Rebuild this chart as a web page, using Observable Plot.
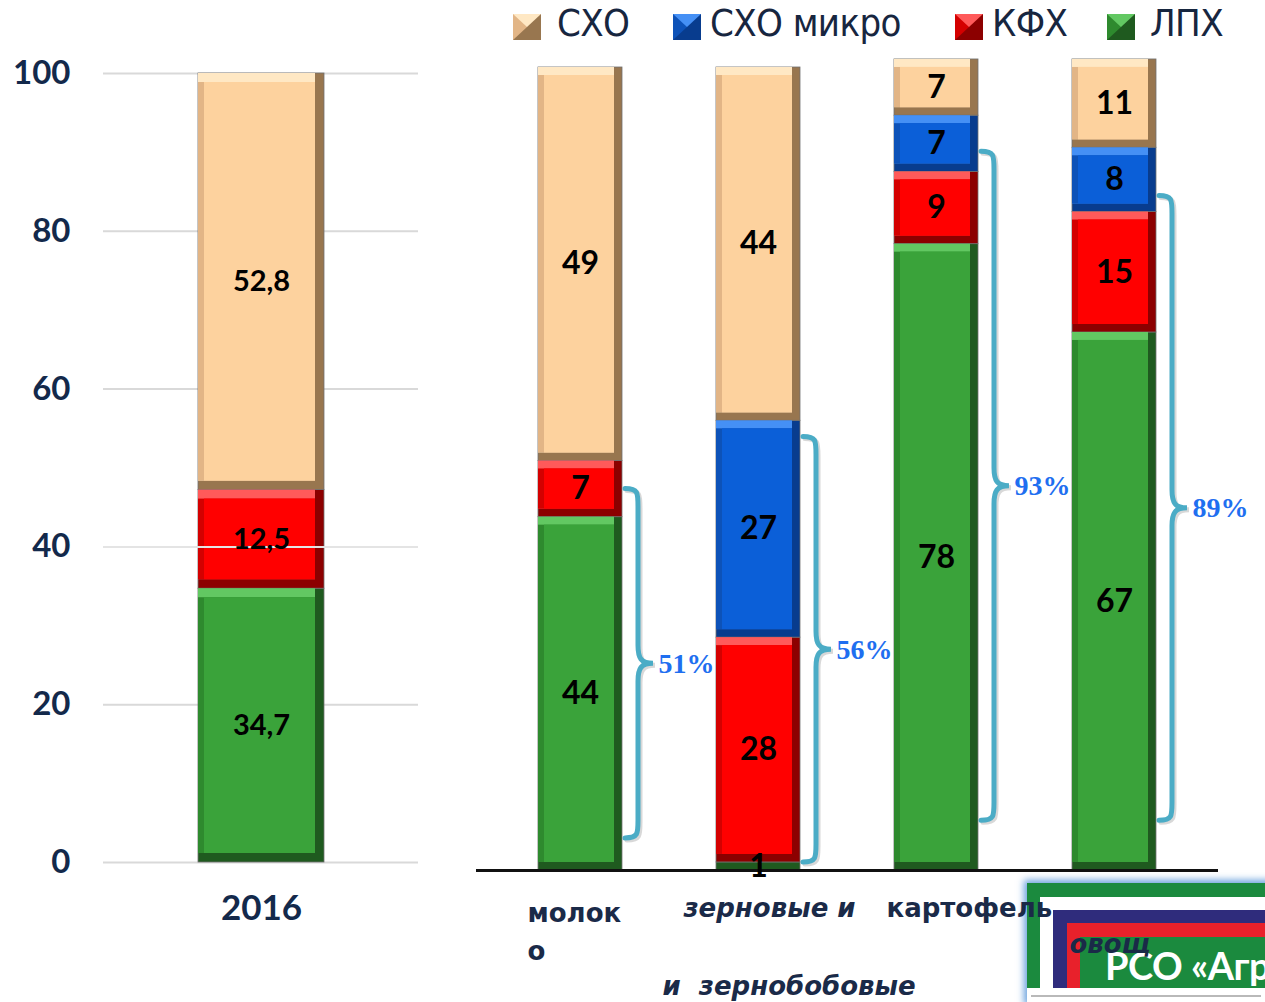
<!DOCTYPE html>
<html>
<head>
<meta charset="utf-8">
<script src="https://cdn.jsdelivr.net/npm/d3@7"></script>
<script src="https://cdn.jsdelivr.net/npm/@observablehq/plot@0.6"></script>
<style>
  html, body { margin: 0; padding: 0; background: #fff; }
  body { width: 1265px; height: 1002px; position: relative; overflow: hidden; }
  .layer { position: absolute; left: 0; top: 0; }
  .layer svg { max-width: none !important; }
  #left g[aria-label="y-axis tick label"] text,
  #left g[aria-label="x-axis tick label"] text { font-weight: 700; fill: #13294b; }
  .lg-text { position: absolute; top: 3px; font: 38px "Liberation Sans Narrow", "Arial Narrow", "DejaVu Sans Condensed", sans-serif; letter-spacing: -0.6px; color: #17263f; line-height: 40px; white-space: nowrap; }
  .lg-sw { position: absolute; top: 14px; width: 0; height: 0; border-style: solid; border-width: 13px 14px; }
  #logo { position: absolute; left: 1027px; top: 883px; width: 250px; height: 119px; background: #fff; box-shadow: 0 0 7px 3px rgba(80,145,215,0.85); overflow: hidden; }
  #logo div { position: absolute; }
</style>
</head>
<body>
<div id="logo">
  <div style="left:0;top:0;right:0;height:105px;background:#1b8a3e"></div>
  <div style="left:13px;top:14px;right:0;height:91px;background:#ffffff"></div>
  <div style="left:26px;top:27px;right:0;height:78px;background:#2f2c7c"></div>
  <div style="left:40px;top:40px;right:0;height:65px;background:#e8212b"></div>
  <div style="left:53px;top:54px;right:0;height:51px;background:#1b8a3e"></div>
  <div style="left:78px;top:60px;font:700 38px Lato, 'Open Sans', sans-serif;letter-spacing:-0.5px;color:#fff;white-space:nowrap;line-height:44px">РСО «Агр</div>
  <div style="left:4px;top:112px;width:230px;height:2px;background:#b9b9b9"></div>
</div>
<div id="left" class="layer"></div>
<div id="right" class="layer"></div>
<div id="legend" class="layer"></div>
<script>
// ---------- data ----------
const years = ["2016"];
const yTicks = [0, 20, 40, 60, 80, 100];
const series = ["ЛПХ", "КФХ", "СХО микро", "СХО"];          // stacking order, bottom → top
const legendOrder = ["СХО", "СХО микро", "КФХ", "ЛПХ"];
const values2016 = [34.7, 12.5, 0, 52.8];

const cats = ["молоко", "зерновые и зернобобовые", "картофель", "овощи"];
const lph   = [44, 1, 78, 67];
const kfh   = [7, 28, 9, 15];
const mikro = [0, 27, 7, 8];
const sho   = [49, 44, 7, 11];
const pctLabels   = ["51%", "56%", "93%", "89%"];
const braceTop    = [47.5, 54, 89.5, 84];
const braceBottom = [4, 1, 6.2, 6.2];

// ---------- styles ----------
const palette = {
  "СХО":       {base: "#fdd29e", light: "#ffe8c4", dark: "#98764f", lb: "#e2b586"},
  "СХО микро": {base: "#0b5fd8", light: "#4590f5", dark: "#083c8e", lb: "#0d52b8"},
  "КФХ":       {base: "#ff0000", light: "#ff5a5a", dark: "#8c0000", lb: "#d40000"},
  "ЛПХ":       {base: "#3aa33a", light: "#62c862", dark: "#1f5a1f", lb: "#2e8a2e"}
};
const navy = "#13294b";
const labelFont = "Lato, 'Open Sans', sans-serif";

// ---------- tables ----------
const rows2016 = series.map((s, j) => ({x: years[0], series: s, value: values2016[j]})).filter(d => d.value > 0);
const seriesVals = [lph, kfh, mikro, sho];
const rowsRight = [];
cats.forEach((c, i) => series.forEach((s, j) => {
  const v = seriesVals[j][i];
  if (v > 0) rowsRight.push({x: c, series: s, value: v});
}));

function bevel(data, inset) {
  return [
    Plot.barY(data, Plot.stackY({x: "x", y: "value", fill: d => palette[d.series].dark, stroke: "#707070", strokeWidth: 0.8})),
    Plot.barY(data, Plot.stackY({x: "x", y: "value", fill: d => palette[d.series].light, insetRight: inset, insetBottom: inset})),
    Plot.barY(data, Plot.stackY({x: "x", y: "value", fill: d => palette[d.series].lb, insetTop: inset, insetRight: inset, insetBottom: inset})),
    Plot.barY(data, Plot.stackY({x: "x", y: "value", fill: d => palette[d.series].base, insetTop: inset, insetRight: inset, insetBottom: inset, insetLeft: Math.round(inset * 0.7)}))
  ];
}

// ---------- left panel ----------
const left = Plot.plot({
  width: 430, height: 950,
  marginLeft: 103, marginRight: 12, marginTop: 73, marginBottom: 88,
  x: {domain: years, paddingInner: 0.4286, paddingOuter: 0.4286, label: null},
  y: {domain: [0, 100], label: null},
  color: {type: "identity"},
  style: {background: "transparent", fontFamily: labelFont, color: navy, overflow: "visible"},
  marks: [
    Plot.gridY(yTicks, {stroke: "#d9d9d9", strokeOpacity: 1, strokeWidth: 2}),
    ...bevel(rows2016, 9),
    Plot.ruleY(yTicks.filter(t => t === 40), {stroke: "#e4e4e4", strokeWidth: 2}),
    Plot.text(rows2016, Plot.stackY({x: "x", y: "value", text: d => String(d.value).replace(".", ","),
      fill: "#000", fontSize: 29, fontWeight: 700, fontFamily: labelFont})),
    Plot.axisY(yTicks, {tickSize: 0, tickPadding: 33, fontSize: 33, fontWeight: 700, label: null}),
    Plot.axisX({tickSize: 0, tickPadding: 33, fontSize: 35, fontWeight: 700, label: null})
  ]
});
document.getElementById("left").append(left);

// ---------- right panel ----------
function braces(index, scales) {
  const sx = scales.x, sy = scales.y;
  const bw = typeof sx.bandwidth === "function" ? sx.bandwidth() : (scales.scales && scales.scales.x ? scales.scales.x.bandwidth : 84);
  const g = d3.create("svg:g").attr("fill", "none").attr("stroke-linecap", "round");
  cats.forEach((c, i) => {
    const x0 = sx(c) + bw + 3, xm = x0 + 13, xt = x0 + 28;
    const yt = sy(braceTop[i]), yb = sy(braceBottom[i]), ym = (yt + yb) / 2;
    const r = 18;
    const d = `M${x0},${yt} C${xm},${yt} ${xm},${yt + 4} ${xm},${yt + r} L${xm},${ym - r} C${xm},${ym - 5} ${xm + 3},${ym} ${xt},${ym} C${xm + 3},${ym} ${xm},${ym + 5} ${xm},${ym + r} L${xm},${yb - r} C${xm},${yb - 4} ${xm},${yb} ${x0},${yb}`;
    g.append("path").attr("d", d).attr("stroke", "#c8c8c8").attr("stroke-width", 5).attr("transform", "translate(2,2)").attr("opacity", 0.7);
    g.append("path").attr("d", d).attr("stroke", "#4bacc6").attr("stroke-width", 5);
  });
  return g.node();
}

const catLabels = [
  {cat: cats[0], text: "молок", dx: -53, dy: 43, italic: false},
  {cat: cats[0], text: "о", dx: -53, dy: 81, italic: false},
  {cat: cats[1], text: "зерновые и", dx: -75, dy: 38, italic: true},
  {cat: cats[1], text: "и  зернобобовые", dx: -96, dy: 116, italic: true},
  {cat: cats[2], text: "картофель", dx: -50, dy: 38, italic: false},
  {cat: cats[3], text: "овощ", dx: -45, dy: 74, italic: true}
];

const right = Plot.plot({
  width: 1265, height: 1002,
  marginLeft: 476, marginRight: 47, marginTop: 67, marginBottom: 132,
  x: {domain: cats, paddingInner: 0.53, paddingOuter: 0.34, axis: null},
  y: {domain: [0, 100], axis: null},
  color: {type: "identity"},
  style: {background: "transparent", fontFamily: labelFont, overflow: "visible"},
  marks: [
    ...bevel(rowsRight, 8),
    Plot.ruleY([0], {stroke: "#111", strokeWidth: 3}),
    braces,
    Plot.text(rowsRight, Plot.stackY({x: "x", y: "value", text: d => String(d.value),
      fill: "#000", fontSize: 32, fontWeight: 700, fontFamily: labelFont})),
    Plot.text(cats, {x: d => d, y: (d, i) => (braceTop[i] + braceBottom[i]) / 2, text: (d, i) => pctLabels[i],
      dx: 78, textAnchor: "start", fill: "#1f6ff0", fontSize: 28, fontWeight: 700,
      fontFamily: "'Liberation Serif', 'DejaVu Serif', serif"}),
    ...catLabels.map(l => Plot.text([l], {x: "cat", frameAnchor: "bottom", text: "text", dx: l.dx, dy: l.dy,
      textAnchor: "start", lineAnchor: "middle", fill: "#1a2a48", fontSize: 26, fontWeight: 700,
      fontStyle: l.italic ? "italic" : "normal", fontFamily: "'DejaVu Sans', Verdana, sans-serif"}))
  ]
});
document.getElementById("right").append(right);

// ---------- legend ----------
const legendPos = {"СХО": [513, 557], "СХО микро": [673, 710], "КФХ": [955, 992], "ЛПХ": [1107, 1150]};
const lg = document.getElementById("legend");
legendOrder.forEach(s => {
  const p = palette[s];
  const sw = document.createElement("div");
  sw.className = "lg-sw";
  sw.style.left = legendPos[s][0] + "px";
  sw.style.borderColor = `${p.light} ${p.dark} ${p.dark} ${p.lb}`;
  lg.append(sw);
  const t = document.createElement("div");
  t.className = "lg-text";
  t.style.left = legendPos[s][1] + "px";
  t.textContent = s;
  lg.append(t);
});
</script>
</body>
</html>
